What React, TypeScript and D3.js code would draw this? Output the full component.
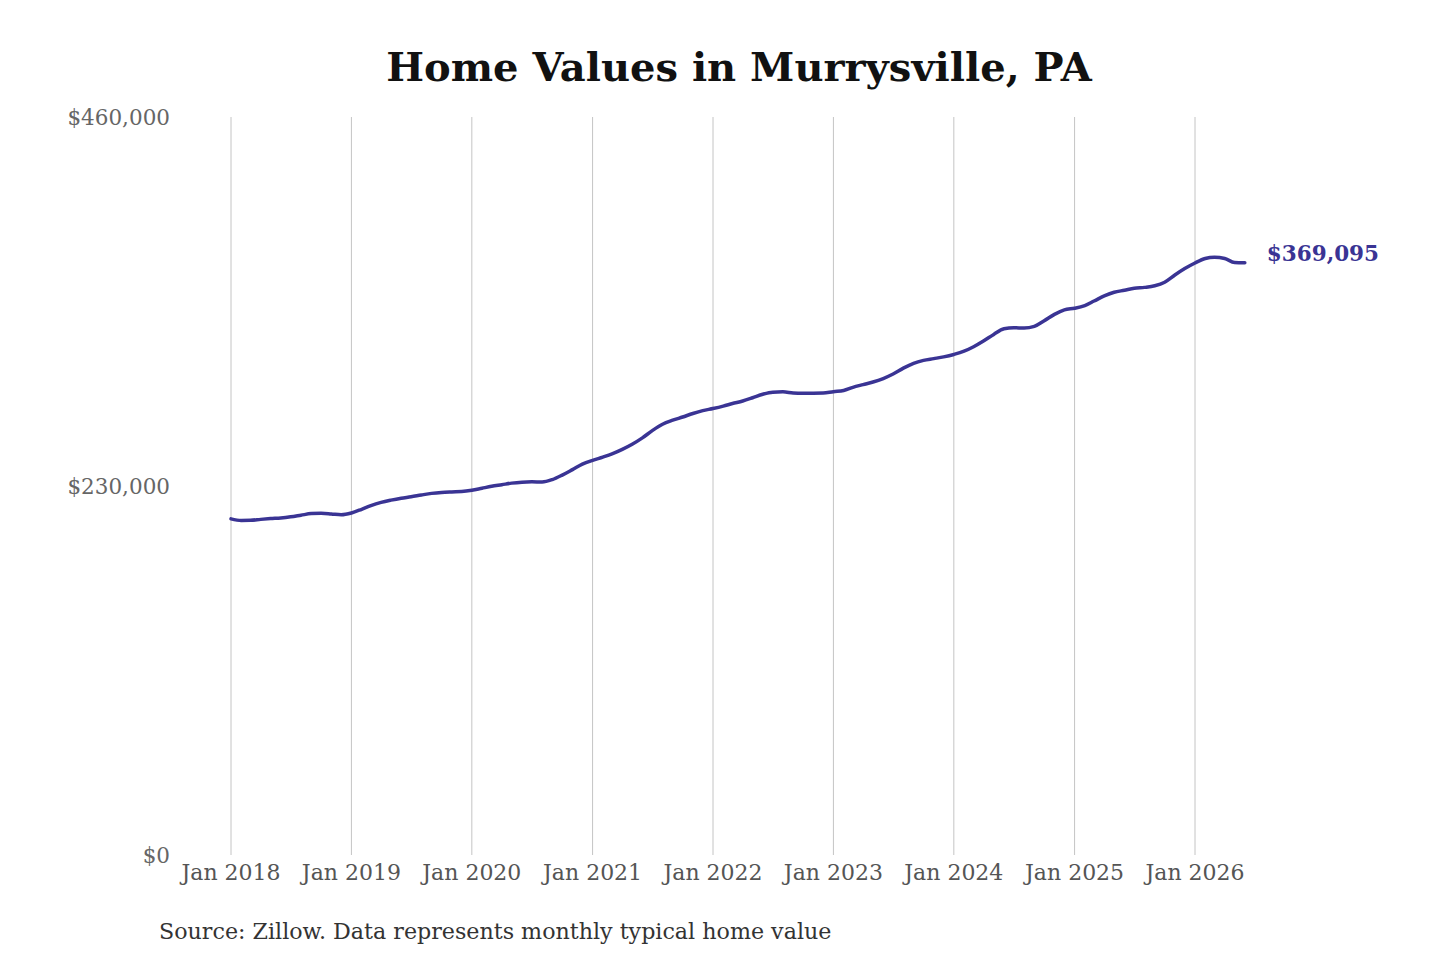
import * as d3 from 'd3'

// monthly typical home value, Jan 2018 onward
const startMonth = new Date(2018, 0, 1);
const homeValues = [
  209500, 208500, 208600, 209200, 209700, 210100, 210800, 211800, 212800, 213000, 212600, 212100,
  213200, 215500, 217800, 219800, 221200, 222400, 223300, 224400, 225400, 226000, 226300, 226500,
  227300, 228600, 229800, 230800, 231800, 232400, 232600, 232500, 234000, 236800, 240200, 243600,
  246000, 248000, 250000, 252800, 256000, 260000, 264500, 268500, 271000, 273000, 275200, 277000,
  278300, 279800, 281400, 283000, 285000, 287200, 288500, 288700, 288000, 287800, 287800, 287900,
  288800, 289500, 291500, 293200, 294800, 297000, 299800, 303500, 306500, 308300, 309400, 310500,
  312000, 314000, 316800, 320500, 324500, 328000, 328600, 328500, 329500, 333000, 337000, 339800,
  340800, 342500, 345300, 348500, 350800, 352000, 353200, 353800, 354800, 357000, 361500, 365500,
  369000, 371800, 372600, 371800, 369300, 369095,
];
const yTicks = [0, 230000, 460000];
const xTickYears = [2018, 2019, 2020, 2021, 2022, 2023, 2024, 2025, 2026];

const title = 'Home Values in Murrysville, PA';
const source = 'Source: Zillow. Data represents monthly typical home value';

function App() {
  const width = 1440;
  const height = 960;
  const lineColor = '#3a3494';
  const font = '"DejaVu Serif", serif';

  const data = homeValues.map((v, i) => ({ date: d3.timeMonth.offset(startMonth, i), value: v }));

  const x = d3.scaleTime()
    .domain([new Date(2018, 0, 1), new Date(2026, 0, 1)])
    .range([231, 1195]);
  const y = d3.scaleLinear()
    .domain([0, 460000])
    .range([855, 117]);

  const line: any = d3.line<any>()
    .x(d => x(d.date))
    .y(d => y(d.value))
    .curve(d3.curveMonotoneX);

  const fmt = d3.format('$,');
  const last = data[data.length - 1];

  return (
    <svg width={width} height={height} style={{ position: 'absolute', left: 0, top: 0, background: '#fff' }}>
      <rect width={width} height={height} fill="#fff" />
      <text x={739} y={81} textAnchor="middle" fontFamily={font} fontWeight="bold" fontSize={40} fill="#111">
        {title}
      </text>

      {xTickYears.map(yr => {
        const xx = x(new Date(yr, 0, 1));
        return (
          <g key={yr}>
            <line x1={xx} x2={xx} y1={y(460000)} y2={y(0)} stroke="#c4c4c4" strokeWidth={1} />
            <text x={xx} y={880} textAnchor="middle" fontFamily={font} fontSize={22} fill="#555">
              {'Jan ' + yr}
            </text>
          </g>
        );
      })}

      {yTicks.map(t => (
        <text key={t} x={170} y={y(t)} dy="0.35em" textAnchor="end" fontFamily={font} fontSize={21.5} fill="#666">
          {fmt(t)}
        </text>
      ))}

      <path d={line(data)} fill="none" stroke={lineColor} strokeWidth={3.5} strokeLinejoin="round" strokeLinecap="round" />

      <text x={x(last.date) + 22} y={y(last.value) - 9} dy="0.35em" fontFamily={font} fontWeight="bold" fontSize={21.5} fill={lineColor}>
        {fmt(last.value)}
      </text>

      <text x={159} y={939} fontFamily={font} fontSize={22.2} fill="#333">
        {source}
      </text>
    </svg>
  );
}

export default App;
